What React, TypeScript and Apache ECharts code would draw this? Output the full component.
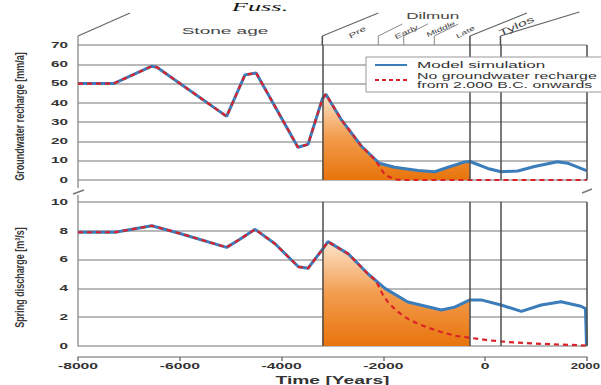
import React, { useEffect, useRef } from "react";
import * as echarts from "echarts";

// ---------- data ----------
const xMin = -8000;
const xMax = 2000;
const xTickValues = [-8000, -6000, -4000, -2000, 0, 2000];
const rechargeTicks = [0, 10, 20, 30, 40, 50, 60, 70];
const dischargeTicks = [0, 2, 4, 6, 8, 10];

const rechargeModel: [number, number][] = [
  [-8000, 50], [-7300, 50], [-6550, 59], [-6450, 58.5], [-5080, 33], [-4720, 54.5], [-4500, 55.5],
  [-3680, 17], [-3480, 18.5], [-3200, 42], [-3130, 44.5], [-2820, 31], [-2430, 17.5], [-2080, 8.7],
  [-1780, 6.6], [-1320, 4.9], [-990, 4.3], [-730, 6.6], [-400, 9.4], [-300, 9.6], [50, 6], [310, 4.3],
  [640, 4.7], [970, 7], [1420, 9.5], [1620, 8.7], [1990, 4.9],
];
const rechargeNoRecharge: [number, number][] = [
  [-8000, 50], [-7300, 50], [-6550, 59], [-6450, 58.5], [-5080, 33], [-4720, 54.5], [-4500, 55.5],
  [-3680, 17], [-3480, 18.5], [-3200, 42], [-3130, 44.5], [-2820, 31], [-2430, 17.5], [-2200, 11.5],
  [-2070, 6.9], [-1970, 2.6], [-1780, 0.3], [-1600, 0], [2000, 0],
];
const dischargeModel: [number, number][] = [
  [-8000, 7.9], [-7270, 7.9], [-6550, 8.35], [-6030, 7.85], [-5080, 6.85], [-4850, 7.35], [-4520, 8.1],
  [-4130, 7.1], [-3670, 5.5], [-3480, 5.4], [-3200, 6.7], [-3090, 7.25], [-2690, 6.4], [-2300, 5.0],
  [-1970, 4.0], [-1520, 3.06], [-860, 2.5], [-600, 2.7], [-300, 3.2], [-80, 3.2], [310, 2.85],
  [710, 2.4], [1100, 2.85], [1490, 3.07], [1880, 2.76], [1970, 2.6], [1990, 0.05],
];
const dischargeNoRecharge: [number, number][] = [
  [-8000, 7.9], [-7270, 7.9], [-6550, 8.35], [-6030, 7.85], [-5080, 6.85], [-4850, 7.35], [-4520, 8.1],
  [-4130, 7.1], [-3670, 5.5], [-3480, 5.4], [-3200, 6.7], [-3090, 7.25], [-2690, 6.4], [-2300, 5.0],
  [-2150, 4.55], [-2010, 3.55], [-1900, 3.0], [-1750, 2.48], [-1585, 2.02], [-1356, 1.6], [-1127, 1.28],
  [-863, 0.97], [-569, 0.7], [-275, 0.56], [52, 0.4], [444, 0.28], [967, 0.17], [1490, 0.1],
  [1882, 0.05], [2000, 0.03],
];

const shadedStart = -3200;
const shadedEnd = -300;
const periodLines = [-3200, -300, 300, 2000];
// period boundaries: Stone age, Pre, Early, Middle, Late, (end of Dilmun), Tylos
const periodBoundaries = [-8000, -3200, -2100, -1600, -1000, -300, 300];
const periodNames = ["Stone age", "Pre", "Early", "Middle", "Late", "Dilmun", "Tylos"];
const seriesNames = ["Model simulation", "No groundwater recharge", "from 2.000 B.C. onwards"];

export default function App() {
  const ref = useRef<HTMLDivElement>(null);

  useEffect(() => {
    const chart = echarts.init(ref.current!, null, { renderer: "svg" });
    const BLUE = "#3b7cba";
    const RED = "#dc2229";
    const GRIDC = "#a2a2a2";
    const DARK = "#4d4d4d";
    const SANS = '"Liberation Sans", Arial, sans-serif';

    const fillGrad = () =>
      new echarts.graphic.LinearGradient(0, 0, 0, 1, [
        { offset: 0, color: "#fde5cd" },
        { offset: 0.5, color: "#f29c4e" },
        { offset: 1, color: "#e8740c" },
      ]);
    const inRange = (d: [number, number][]) => d.filter((p) => p[0] >= shadedStart && p[0] <= shadedEnd);
    const markLine = {
      silent: true,
      symbol: ["none", "none"],
      label: { show: false },
      lineStyle: { color: DARK, width: 1.5, type: "solid" },
      data: periodLines.map((v) => ({ xAxis: v })),
    };
    const yAxisBase = {
      type: "value",
      axisLine: { show: true, onZero: false, lineStyle: { color: "#999", width: 1.5 } },
      axisTick: { show: false },
      axisLabel: { show: false },
      splitLine: { lineStyle: { color: GRIDC, width: 1.5 } },
    };

    const option: any = {
      animation: false,
      grid: [
        { left: 78, right: 14, top: 45, height: 135 },
        { left: 78, right: 14, top: 202, height: 144 },
      ],
      xAxis: [
        { gridIndex: 0, type: "value", min: xMin, max: xMax, show: false },
        {
          gridIndex: 1, type: "value", min: xMin, max: xMax, interval: 2000, offset: 11,
          axisLine: { onZero: false, lineStyle: { color: "#999", width: 1.5 } },
          axisTick: { length: 4, lineStyle: { color: "#777", width: 1.5 } },
          axisLabel: { show: false },
          splitLine: { show: false },
        },
      ],
      yAxis: [
        { ...yAxisBase, gridIndex: 0, min: 0, max: 70, interval: 10 },
        { ...yAxisBase, gridIndex: 1, min: 0, max: 10, interval: 2 },
      ],
      series: [
        {
          type: "line", xAxisIndex: 0, yAxisIndex: 0, data: inRange(rechargeModel), symbol: "none",
          lineStyle: { width: 0 }, areaStyle: { color: fillGrad(), opacity: 1 }, z: 2, silent: true, markLine,
        },
        {
          name: seriesNames[0], type: "line", xAxisIndex: 0, yAxisIndex: 0, data: rechargeModel, symbol: "none",
          lineStyle: { color: BLUE, width: 3 }, z: 3,
        },
        {
          name: seriesNames[1], type: "line", xAxisIndex: 0, yAxisIndex: 0, data: rechargeNoRecharge, symbol: "none",
          lineStyle: { color: RED, width: 2.2, type: [5, 4] }, z: 4,
        },
        {
          type: "line", xAxisIndex: 1, yAxisIndex: 1, data: inRange(dischargeModel), symbol: "none",
          lineStyle: { width: 0 }, areaStyle: { color: fillGrad(), opacity: 1 }, z: 2, silent: true, markLine,
        },
        {
          name: seriesNames[0], type: "line", xAxisIndex: 1, yAxisIndex: 1, data: dischargeModel, symbol: "none",
          lineStyle: { color: BLUE, width: 3 }, z: 3,
        },
        {
          name: seriesNames[1], type: "line", xAxisIndex: 1, yAxisIndex: 1, data: dischargeNoRecharge, symbol: "none",
          lineStyle: { color: RED, width: 2.2, type: [5, 4] }, z: 4,
        },
      ],
    };
    chart.setOption(option);

    const X = (v: number) => chart.convertToPixel({ xAxisIndex: 0 }, v) as number;
    const Yt = (v: number) => chart.convertToPixel({ yAxisIndex: 0 }, v) as number;
    const Yb = (v: number) => chart.convertToPixel({ yAxisIndex: 1 }, v) as number;

    const text = (
      t: string, x: number, y: number,
      o: { size: number; weight?: string; color?: string; sx?: number; sy?: number; rot?: number; align?: string; va?: string; font?: string }
    ) => ({
      type: "text", x, y, rotation: o.rot || 0, scaleX: o.sx || 1, scaleY: o.sy || 1, silent: true, z: 20,
      style: {
        text: t, fill: o.color || "#333",
        font: o.font || `${o.weight || "normal"} ${o.size}px ${SANS}`,
        align: o.align || "center", verticalAlign: o.va || "middle",
        textAlign: o.align || "center", textVerticalAlign: o.va || "middle",
      },
    });
    const line = (x1: number, y1: number, x2: number, y2: number, stroke = "#777", w = 1.2, dash?: number[]) => ({
      type: "line", silent: true, z: 20,
      shape: { x1, y1, x2, y2 },
      style: { stroke, lineWidth: w, lineDash: dash },
    });

    const els: any[] = [];
    const top = Yt(70);
    const base = top - 9;
    const x0 = X(xMin);
    const xEnd = X(xMax);

    // header verticals and slants
    const slants: [number, number][] = [[52, -23], [56, -23], [24, -12], [24, -12], [24, -12], [57, -23], [79, -24]];
    periodBoundaries.forEach((yr, i) => {
      const bx = X(yr);
      const isMinor = i >= 2 && i <= 4;
      els.push(line(bx, base, bx, top, isMinor ? "#888" : i === 0 ? "#999" : DARK, isMinor ? 1 : 1.5));
      els.push(line(bx, base, bx + slants[i][0], base + slants[i][1], isMinor ? "#888" : "#666", isMinor ? 1 : 1.2));
    });
    // header labels
    els.push(text(periodNames[0], X(-8000) + 147, 31, { size: 9.5, sx: 2.0, color: "#444" }));
    els.push(text(periodNames[1], X(-3200) + 35, 32, { size: 7, sx: 1.7, rot: 0.5, color: "#444" }));
    els.push(text(periodNames[2], X(-2100) + 28, 32, { size: 6.5, sx: 1.7, rot: 0.45, color: "#444" }));
    els.push(text(periodNames[3], X(-1600) + 37, 29, { size: 6.5, sx: 1.6, rot: 0.42, color: "#444" }));
    els.push(text(periodNames[4], X(-1000) + 31, 32, { size: 6.5, sx: 1.6, rot: 0.5, color: "#444" }));
    els.push(text(periodNames[5], X(-1600) + 29, 16, { size: 9.5, sx: 1.8, color: "#444" }));
    els.push(text(periodNames[6], X(300) + 16, 26, { size: 9, sx: 1.8, rot: 0.42, color: "#444" }));

    // axis extensions and break marks
    els.push(line(x0, Yt(0), x0, Yt(0) + 8, "#999", 1.5));
    els.push(line(x0, Yb(10) - 7, x0, Yb(10), "#999", 1.5));
    els.push(line(x0 - 5, Yt(0) + 14, x0 + 6, Yt(0) + 10, "#777", 1.5));
    els.push(line(xEnd - 5, Yb(10) - 9, xEnd + 5, Yb(10) - 13, "#777", 1.5));

    // tick labels
    rechargeTicks.forEach((v) => els.push(text(String(v), 68, Yt(v), { size: 8.5, weight: "bold", sx: 1.8, align: "right" })));
    dischargeTicks.forEach((v) => els.push(text(String(v), 68, Yb(v), { size: 8.5, weight: "bold", sx: 1.8, align: "right" })));
    xTickValues.forEach((v, i) => {
      const last = i === xTickValues.length - 1;
      els.push(text(String(v), last ? 600 : X(v), Yb(0) + 20, { size: 8.5, weight: "bold", sx: last ? 1.55 : 1.85, align: last ? "right" : "center" }));
    });

    // axis names
    els.push(text("Time [Years]", (x0 + xEnd) / 2, Yb(0) + 34, { size: 11, weight: "bold", sx: 1.75 }));
    els.push(text("Groundwater recharge [mm/a]", 19, (Yt(0) + Yt(70)) / 2 + 4, { size: 9, weight: "bold", sy: 1.5, rot: Math.PI / 2, color: "#3a3a3a" }));
    els.push(text("Spring discharge [m³/s]", 19, (Yb(0) + Yb(10)) / 2 + 3.5, { size: 9, weight: "bold", sy: 1.5, rot: Math.PI / 2, color: "#3a3a3a" }));

    // legend
    els.push({ type: "rect", silent: true, z: 19, shape: { x: 366, y: 57, width: 270, height: 35 }, style: { fill: "#fff", stroke: "#999", lineWidth: 1 } });
    els.push(line(375, 65, 407, 65, BLUE, 2));
    els.push(line(375, 80, 407, 80, RED, 2, [4, 3]));
    els.push(text(seriesNames[0], 417, 65, { size: 9.5, sx: 1.8, align: "left" }));
    els.push(text(seriesNames[1], 417, 75.5, { size: 9.5, sx: 1.67, align: "left" }));
    els.push(text(seriesNames[2], 417, 85, { size: 9.5, sx: 1.67, align: "left" }));

    // caption fragment above the chart
    els.push(text("Fuss.", 260, 1, { size: 12, sx: 2.2, va: "top", font: 'italic 12px "Liberation Serif", serif', color: "#111" }));

    chart.setOption({ graphic: { elements: els } });

    return () => chart.dispose();
  }, []);

  return <div ref={ref} style={{ position: "fixed", left: 0, top: 0, width: 601, height: 385, background: "#fff" }} />;
}
